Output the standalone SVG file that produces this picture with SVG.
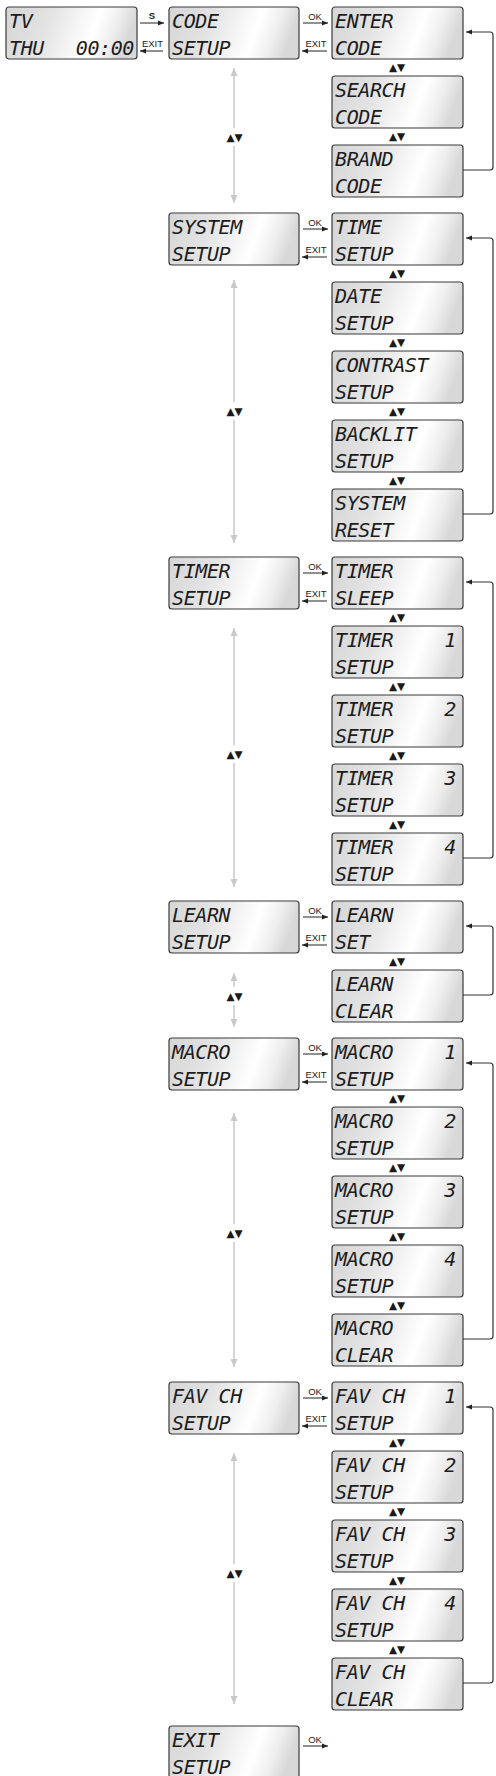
<svg xmlns="http://www.w3.org/2000/svg" width="496" height="1776" viewBox="0 0 496 1776">
<style>
.lcd{fill:url(#lcdg);stroke:#3a3a3a;stroke-width:1.2}
.t{font-family:"DejaVu Sans Mono",monospace;font-style:italic;font-size:20px;letter-spacing:-0.4px;fill:#1c1c1c}
.te{font-family:"DejaVu Sans Mono",monospace;font-style:italic;font-size:20px;letter-spacing:-0.4px;fill:#1c1c1c;text-anchor:end}
.lbl{font-family:"Liberation Sans",Arial,sans-serif;font-size:9.5px;fill:#222;text-anchor:middle}
.ud{font-family:"DejaVu Sans",sans-serif;font-size:10.5px;fill:#1a1a1a;text-anchor:middle}
.ln{stroke:#222;stroke-width:1;fill:none}
.loop{stroke:#333;stroke-width:1.2;fill:none}
.gl{stroke:#c8c8c8;stroke-width:1.5;fill:none}
</style>
<defs>
<linearGradient id="lcdg" x1="0" y1="0" x2="1" y2="0.15">
<stop offset="0" stop-color="#d6d6d6"/>
<stop offset="0.35" stop-color="#e3e3e3"/>
<stop offset="0.58" stop-color="#f5f5f5"/>
<stop offset="0.72" stop-color="#ffffff"/>
<stop offset="0.87" stop-color="#efefef"/>
<stop offset="1" stop-color="#d8d8d8"/>
</linearGradient>
<marker id="ah" markerWidth="7" markerHeight="6" refX="6" refY="3" orient="auto" markerUnits="userSpaceOnUse"><path d="M0,0.5 L6,3 L0,5.5 z" fill="#222"/></marker>
<marker id="gh" markerWidth="8" markerHeight="7" refX="8" refY="3.5" orient="auto" markerUnits="userSpaceOnUse"><path d="M0,0 L8,3.5 L0,7 z" fill="#c8c8c8"/></marker>
</defs>

<!-- Connectors -->
<g id="connectors">
<line class="ln" x1="140" y1="23" x2="164" y2="23" marker-end="url(#ah)"/>
<text class="lbl" x="152" y="19" font-weight="bold">S</text>
<line class="ln" x1="163" y1="51" x2="140" y2="51" marker-end="url(#ah)"/>
<text class="lbl" x="152.5" y="47">EXIT</text>

<g id="okexit">
<line class="ln" x1="303" y1="23" x2="328" y2="23" marker-end="url(#ah)"/><text class="lbl" x="315" y="20">OK</text>
<line class="ln" x1="327" y1="51" x2="302" y2="51" marker-end="url(#ah)"/><text class="lbl" x="316" y="47">EXIT</text>

<line class="ln" x1="303" y1="229" x2="328" y2="229" marker-end="url(#ah)"/><text class="lbl" x="315" y="226">OK</text>
<line class="ln" x1="327" y1="257" x2="302" y2="257" marker-end="url(#ah)"/><text class="lbl" x="316" y="253">EXIT</text>

<line class="ln" x1="303" y1="573" x2="328" y2="573" marker-end="url(#ah)"/><text class="lbl" x="315" y="570">OK</text>
<line class="ln" x1="327" y1="601" x2="302" y2="601" marker-end="url(#ah)"/><text class="lbl" x="316" y="597">EXIT</text>

<line class="ln" x1="303" y1="917" x2="328" y2="917" marker-end="url(#ah)"/><text class="lbl" x="315" y="914">OK</text>
<line class="ln" x1="327" y1="945" x2="302" y2="945" marker-end="url(#ah)"/><text class="lbl" x="316" y="941">EXIT</text>

<line class="ln" x1="303" y1="1054" x2="328" y2="1054" marker-end="url(#ah)"/><text class="lbl" x="315" y="1051">OK</text>
<line class="ln" x1="327" y1="1082" x2="302" y2="1082" marker-end="url(#ah)"/><text class="lbl" x="316" y="1078">EXIT</text>

<line class="ln" x1="303" y1="1398" x2="328" y2="1398" marker-end="url(#ah)"/><text class="lbl" x="315" y="1395">OK</text>
<line class="ln" x1="327" y1="1426" x2="302" y2="1426" marker-end="url(#ah)"/><text class="lbl" x="316" y="1422">EXIT</text>

<line class="ln" x1="303" y1="1746" x2="328" y2="1746" marker-end="url(#ah)"/><text class="lbl" x="315" y="1743">OK</text>
</g>

<g id="loops">
<path class="loop" d="M463,170 H490 Q493,170 493,167 V35 Q493,32 490,32 H466" marker-end="url(#ah)"/>
<path class="loop" d="M463,514 H490 Q493,514 493,511 V241 Q493,238 490,238 H466" marker-end="url(#ah)"/>
<path class="loop" d="M463,858 H490 Q493,858 493,855 V585 Q493,582 490,582 H466" marker-end="url(#ah)"/>
<path class="loop" d="M463,995 H490 Q493,995 493,992 V929 Q493,926 490,926 H466" marker-end="url(#ah)"/>
<path class="loop" d="M463,1339 H490 Q493,1339 493,1336 V1066 Q493,1063 490,1063 H466" marker-end="url(#ah)"/>
<path class="loop" d="M463,1683 H490 Q493,1683 493,1680 V1410 Q493,1407 490,1407 H466" marker-end="url(#ah)"/>
</g>

<g id="main-nav">
<line class="gl" x1="234" y1="128" x2="234" y2="68" marker-end="url(#gh)"/>
<line class="gl" x1="234" y1="146" x2="234" y2="203" marker-end="url(#gh)"/>
<text class="ud" x="234.5" y="141">▲▼</text>

<line class="gl" x1="234" y1="402" x2="234" y2="280" marker-end="url(#gh)"/>
<line class="gl" x1="234" y1="420" x2="234" y2="543" marker-end="url(#gh)"/>
<text class="ud" x="234.5" y="415">▲▼</text>

<line class="gl" x1="234" y1="745" x2="234" y2="628" marker-end="url(#gh)"/>
<line class="gl" x1="234" y1="763" x2="234" y2="887" marker-end="url(#gh)"/>
<text class="ud" x="234.5" y="758">▲▼</text>

<line class="gl" x1="234" y1="987" x2="234" y2="973" marker-end="url(#gh)"/>
<line class="gl" x1="234" y1="1005" x2="234" y2="1027" marker-end="url(#gh)"/>
<text class="ud" x="234.5" y="1000">▲▼</text>

<line class="gl" x1="234" y1="1224" x2="234" y2="1113" marker-end="url(#gh)"/>
<line class="gl" x1="234" y1="1242" x2="234" y2="1367" marker-end="url(#gh)"/>
<text class="ud" x="234.5" y="1237">▲▼</text>

<line class="gl" x1="234" y1="1564" x2="234" y2="1453" marker-end="url(#gh)"/>
<line class="gl" x1="234" y1="1582" x2="234" y2="1704" marker-end="url(#gh)"/>
<text class="ud" x="234.5" y="1577">▲▼</text>
</g>

<g id="sub-nav">
<text class="ud" x="397" y="71">▲▼</text>
<text class="ud" x="397" y="140">▲▼</text>

<text class="ud" x="397" y="277">▲▼</text>
<text class="ud" x="397" y="346">▲▼</text>
<text class="ud" x="397" y="415">▲▼</text>
<text class="ud" x="397" y="484">▲▼</text>

<text class="ud" x="397" y="621">▲▼</text>
<text class="ud" x="397" y="690">▲▼</text>
<text class="ud" x="397" y="759">▲▼</text>
<text class="ud" x="397" y="828">▲▼</text>

<text class="ud" x="397" y="965">▲▼</text>

<text class="ud" x="397" y="1102">▲▼</text>
<text class="ud" x="397" y="1171">▲▼</text>
<text class="ud" x="397" y="1240">▲▼</text>
<text class="ud" x="397" y="1309">▲▼</text>

<text class="ud" x="397" y="1446">▲▼</text>
<text class="ud" x="397" y="1515">▲▼</text>
<text class="ud" x="397" y="1584">▲▼</text>
<text class="ud" x="397" y="1653">▲▼</text>
</g>
</g>

<!-- Nodes -->
<g id="tv"><rect class="lcd" x="6" y="7" width="131" height="52" rx="3"/><text class="t" x="9" y="28">TV</text><text class="t" x="9" y="55">THU</text><text class="te" x="134" y="55">00:00</text></g>

<g id="code-setup"><rect class="lcd" x="169" y="7" width="130" height="52" rx="3"/><text class="t" x="172" y="28">CODE</text><text class="t" x="172" y="55">SETUP</text></g>
<g id="enter-code"><rect class="lcd" x="332" y="7" width="131" height="52" rx="3"/><text class="t" x="335" y="28">ENTER</text><text class="t" x="335" y="55">CODE</text></g>
<g id="search-code"><rect class="lcd" x="332" y="76" width="131" height="52" rx="3"/><text class="t" x="335" y="97">SEARCH</text><text class="t" x="335" y="124">CODE</text></g>
<g id="brand-code"><rect class="lcd" x="332" y="145" width="131" height="52" rx="3"/><text class="t" x="335" y="166">BRAND</text><text class="t" x="335" y="193">CODE</text></g>

<g id="system-setup"><rect class="lcd" x="169" y="213" width="130" height="52" rx="3"/><text class="t" x="172" y="234">SYSTEM</text><text class="t" x="172" y="261">SETUP</text></g>
<g id="time-setup"><rect class="lcd" x="332" y="213" width="131" height="52" rx="3"/><text class="t" x="335" y="234">TIME</text><text class="t" x="335" y="261">SETUP</text></g>
<g id="date-setup"><rect class="lcd" x="332" y="282" width="131" height="52" rx="3"/><text class="t" x="335" y="303">DATE</text><text class="t" x="335" y="330">SETUP</text></g>
<g id="contrast-setup"><rect class="lcd" x="332" y="351" width="131" height="52" rx="3"/><text class="t" x="335" y="372">CONTRAST</text><text class="t" x="335" y="399">SETUP</text></g>
<g id="backlit-setup"><rect class="lcd" x="332" y="420" width="131" height="52" rx="3"/><text class="t" x="335" y="441">BACKLIT</text><text class="t" x="335" y="468">SETUP</text></g>
<g id="system-reset"><rect class="lcd" x="332" y="489" width="131" height="52" rx="3"/><text class="t" x="335" y="510">SYSTEM</text><text class="t" x="335" y="537">RESET</text></g>

<g id="timer-setup"><rect class="lcd" x="169" y="557" width="130" height="52" rx="3"/><text class="t" x="172" y="578">TIMER</text><text class="t" x="172" y="605">SETUP</text></g>
<g id="timer-sleep"><rect class="lcd" x="332" y="557" width="131" height="52" rx="3"/><text class="t" x="335" y="578">TIMER</text><text class="t" x="335" y="605">SLEEP</text></g>
<g id="timer-1"><rect class="lcd" x="332" y="626" width="131" height="52" rx="3"/><text class="t" x="335" y="647">TIMER</text><text class="te" x="456" y="647">1</text><text class="t" x="335" y="674">SETUP</text></g>
<g id="timer-2"><rect class="lcd" x="332" y="695" width="131" height="52" rx="3"/><text class="t" x="335" y="716">TIMER</text><text class="te" x="456" y="716">2</text><text class="t" x="335" y="743">SETUP</text></g>
<g id="timer-3"><rect class="lcd" x="332" y="764" width="131" height="52" rx="3"/><text class="t" x="335" y="785">TIMER</text><text class="te" x="456" y="785">3</text><text class="t" x="335" y="812">SETUP</text></g>
<g id="timer-4"><rect class="lcd" x="332" y="833" width="131" height="52" rx="3"/><text class="t" x="335" y="854">TIMER</text><text class="te" x="456" y="854">4</text><text class="t" x="335" y="881">SETUP</text></g>

<g id="learn-setup"><rect class="lcd" x="169" y="901" width="130" height="52" rx="3"/><text class="t" x="172" y="922">LEARN</text><text class="t" x="172" y="949">SETUP</text></g>
<g id="learn-set"><rect class="lcd" x="332" y="901" width="131" height="52" rx="3"/><text class="t" x="335" y="922">LEARN</text><text class="t" x="335" y="949">SET</text></g>
<g id="learn-clear"><rect class="lcd" x="332" y="970" width="131" height="52" rx="3"/><text class="t" x="335" y="991">LEARN</text><text class="t" x="335" y="1018">CLEAR</text></g>

<g id="macro-setup"><rect class="lcd" x="169" y="1038" width="130" height="52" rx="3"/><text class="t" x="172" y="1059">MACRO</text><text class="t" x="172" y="1086">SETUP</text></g>
<g id="macro-1"><rect class="lcd" x="332" y="1038" width="131" height="52" rx="3"/><text class="t" x="335" y="1059">MACRO</text><text class="te" x="456" y="1059">1</text><text class="t" x="335" y="1086">SETUP</text></g>
<g id="macro-2"><rect class="lcd" x="332" y="1107" width="131" height="52" rx="3"/><text class="t" x="335" y="1128">MACRO</text><text class="te" x="456" y="1128">2</text><text class="t" x="335" y="1155">SETUP</text></g>
<g id="macro-3"><rect class="lcd" x="332" y="1176" width="131" height="52" rx="3"/><text class="t" x="335" y="1197">MACRO</text><text class="te" x="456" y="1197">3</text><text class="t" x="335" y="1224">SETUP</text></g>
<g id="macro-4"><rect class="lcd" x="332" y="1245" width="131" height="52" rx="3"/><text class="t" x="335" y="1266">MACRO</text><text class="te" x="456" y="1266">4</text><text class="t" x="335" y="1293">SETUP</text></g>
<g id="macro-clear"><rect class="lcd" x="332" y="1314" width="131" height="52" rx="3"/><text class="t" x="335" y="1335">MACRO</text><text class="t" x="335" y="1362">CLEAR</text></g>

<g id="favch-setup"><rect class="lcd" x="169" y="1382" width="130" height="52" rx="3"/><text class="t" x="172" y="1403">FAV CH</text><text class="t" x="172" y="1430">SETUP</text></g>
<g id="favch-1"><rect class="lcd" x="332" y="1382" width="131" height="52" rx="3"/><text class="t" x="335" y="1403">FAV CH</text><text class="te" x="456" y="1403">1</text><text class="t" x="335" y="1430">SETUP</text></g>
<g id="favch-2"><rect class="lcd" x="332" y="1451" width="131" height="52" rx="3"/><text class="t" x="335" y="1472">FAV CH</text><text class="te" x="456" y="1472">2</text><text class="t" x="335" y="1499">SETUP</text></g>
<g id="favch-3"><rect class="lcd" x="332" y="1520" width="131" height="52" rx="3"/><text class="t" x="335" y="1541">FAV CH</text><text class="te" x="456" y="1541">3</text><text class="t" x="335" y="1568">SETUP</text></g>
<g id="favch-4"><rect class="lcd" x="332" y="1589" width="131" height="52" rx="3"/><text class="t" x="335" y="1610">FAV CH</text><text class="te" x="456" y="1610">4</text><text class="t" x="335" y="1637">SETUP</text></g>
<g id="favch-clear"><rect class="lcd" x="332" y="1658" width="131" height="52" rx="3"/><text class="t" x="335" y="1679">FAV CH</text><text class="t" x="335" y="1706">CLEAR</text></g>

<g id="exit-setup"><rect class="lcd" x="169" y="1726" width="130" height="52" rx="3"/><text class="t" x="172" y="1747">EXIT</text><text class="t" x="172" y="1774">SETUP</text></g>
</svg>
